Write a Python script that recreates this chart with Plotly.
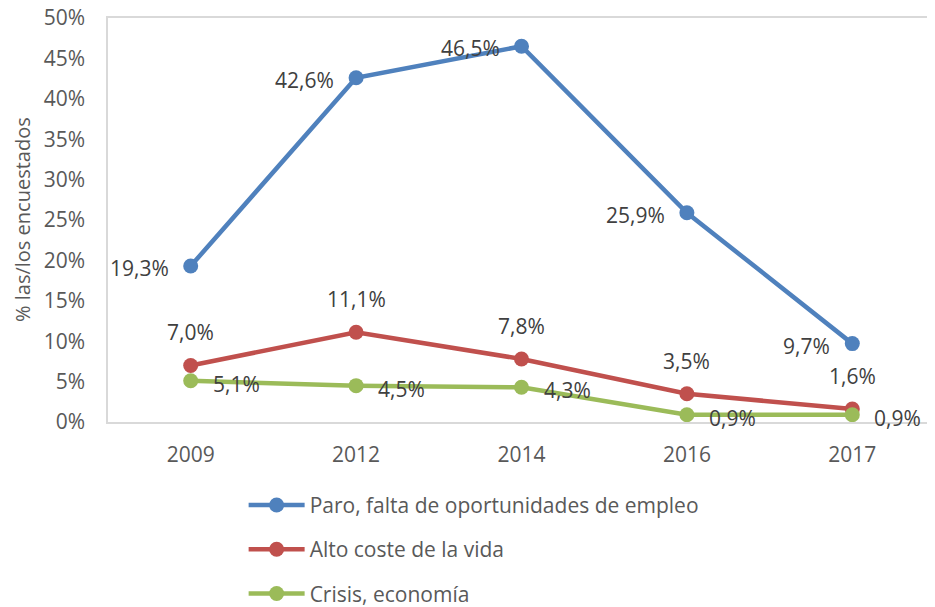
import plotly.graph_objects as go

years = ["2009", "2012", "2014", "2016", "2017"]
paro = [19.3, 42.6, 46.5, 25.9, 9.7]
coste = [7.0, 11.1, 7.8, 3.5, 1.6]
crisis = [5.1, 4.5, 4.3, 0.9, 0.9]
names = ["Paro, falta de oportunidades de empleo", "Alto coste de la vida", "Crisis, economía"]
colors = ["#4F81BD", "#C0504D", "#9BBB59"]

FONT = "Open Sans"
TXT = "#595959"
LBL = "#404040"
FS = 21

# label placement per series: (xanchor, yanchor, xshift, yshift)
placement = [("right", "middle", -20, -2), ("center", "middle", 0, 33), ("left", "middle", 20, -3)]

def fmt(v):
    return f"{v:.1f}".replace(".", ",") + "%"

fig = go.Figure()
annotations = []
for i, (vals, name) in enumerate(zip([paro, coste, crisis], names)):
    fig.add_trace(go.Scatter(
        x=years, y=vals, name=name, mode="lines+markers",
        line=dict(color=colors[i], width=4.5),
        marker=dict(color=colors[i], size=15),
        legendgroup=f"g{i}", cliponaxis=False,
    ))
    xa, ya, xs, ys = placement[i]
    for j, v in enumerate(vals):
        annotations.append(dict(
            x=j, y=v, xref="x", yref="y", text=fmt(v), showarrow=False,
            xanchor=xa, yanchor=ya, xshift=xs, yshift=ys,
            font=dict(family=FONT, size=FS, color=LBL),
        ))

annotations.append(dict(
    x=0, y=0.5, xref="paper", yref="paper", xshift=-86, text="% las/los encuestados",
    textangle=-90, showarrow=False, xanchor="center", yanchor="middle",
    font=dict(family=FONT, size=FS - 1, color=TXT),
))

fig.update_layout(
    width=935, height=607,
    margin=dict(l=100, r=8, t=10, b=193),
    paper_bgcolor="white", plot_bgcolor="white",
    font=dict(family=FONT, size=FS, color=TXT),
    xaxis=dict(type="category", categoryorder="array", categoryarray=years,
               range=[-0.5, len(years) - 0.5],
               showgrid=False, showline=True, linecolor="#D9D9D9",
               linewidth=1.5, mirror=True, ticks="", automargin=False, ticklabelstandoff=13,
               tickfont=dict(size=FS, color=TXT)),
    yaxis=dict(range=[0, 50], dtick=5, ticksuffix="%", showgrid=False, showline=True,
               linecolor="#D9D9D9", linewidth=1.5, mirror=True, zeroline=False,
               automargin=False, ticklabelstandoff=17, ticklabeloverflow="allow",
               tickfont=dict(size=FS, color=TXT)),
    legend=dict(orientation="v", xref="paper", x=0.164, yref="container", y=0.2145,
                xanchor="left", yanchor="top",
                tracegroupgap=14, font=dict(size=FS, color=TXT), itemwidth=56),
    annotations=annotations,
    showlegend=True,
)

fig.write_html("out.html")
